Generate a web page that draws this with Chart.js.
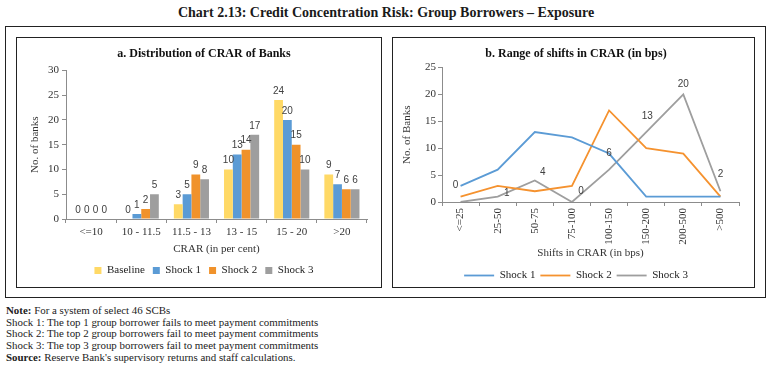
<!DOCTYPE html>
<html><head><meta charset="utf-8">
<script src="https://cdn.jsdelivr.net/npm/chart.js@4.4.0/dist/chart.umd.min.js"></script>
<style>
html,body{margin:0;padding:0;background:#fff;}
body{width:772px;height:366px;position:relative;overflow:hidden;font-family:"Liberation Serif",serif;color:#1a1a1a;}
#mainTitle{position:absolute;left:0;top:5px;width:772px;text-align:center;font-weight:bold;font-size:14px;line-height:16px;}
#outer{position:absolute;left:5px;top:26px;width:761px;height:272px;border:1px solid #222;box-sizing:border-box;}
.panel{position:absolute;border:1px solid #222;box-sizing:border-box;}
#panelA{left:16px;top:37px;width:366px;height:251px;}
#panelB{left:392px;top:37px;width:363px;height:251px;}
canvas{position:absolute;left:0;top:0;}
#notes{position:absolute;left:6px;top:305px;font-size:10.9px;line-height:11.7px;color:#222;}
</style>
</head><body>
<div id="mainTitle">Chart 2.13: Credit Concentration Risk: Group Borrowers – Exposure</div>
<div id="outer"></div>
<div class="panel" id="panelA"><canvas id="chartA" width="364" height="249"></canvas></div>
<div class="panel" id="panelB"><canvas id="chartB" width="361" height="249"></canvas></div>
<div id="notes">
<div><b>Note:</b> For a system of select 46 SCBs</div>
<div>Shock 1: The top 1 group borrower fails to meet payment commitments</div>
<div>Shock 2: The top 2 group borrowers fail to meet payment commitments</div>
<div>Shock 3: The top 3 group borrowers fail to meet payment commitments</div>
<div><b>Source:</b> Reserve Bank's supervisory returns and staff calculations.</div>
</div>
<script>
// ---- Panel a data ----
const crarCategories = ['<=10', '10 - 11.5', '11.5 - 13', '13 - 15', '15 - 20', '>20'];
const baselineBanks = [0, 0, 3, 10, 24, 9];
const shock1Banks = [0, 1, 5, 13, 20, 7];
const shock2Banks = [0, 2, 9, 14, 15, 6];
const shock3Banks = [0, 5, 8, 17, 10, 6];
const crarAxisTicks = [0, 5, 10, 15, 20, 25, 30];

// ---- Panel b data ----
const shiftCategories = ['<=25', '25-50', '50-75', '75-100', '100-150', '150-200', '200-500', '>500'];
const shock1Shift = [3, 6, 13, 12, 9, 1, 1, 1];
const shock2Shift = [1, 3, 2, 3, 17, 10, 9, 1];
const shock3Shift = [0, 1, 4, 0, 6, 13, 20, 2];
const shiftAxisTicks = [0, 5, 10, 15, 20, 25];

const serif = 'Liberation Serif';
const axisGrey = '#8c8c8c';
const textCol = '#333';

const barValueLabels = {
  id: 'barValueLabels',
  afterDatasetsDraw(chart, args, opts) {
    const ctx = chart.ctx;
    ctx.save();
    ctx.font = opts.font;
    ctx.fillStyle = opts.color;
    ctx.textAlign = 'center';
    ctx.textBaseline = 'middle';
    chart.data.datasets.forEach((ds, di) => {
      const meta = chart.getDatasetMeta(di);
      meta.data.forEach((el, i) => {
        ctx.fillText(String(ds.data[i]), el.x, el.y + opts.dy);
      });
    });
    ctx.restore();
  }
};

const lineValueLabels = {
  id: 'lineValueLabels',
  afterDatasetsDraw(chart, args, opts) {
    const ctx = chart.ctx;
    const ds = chart.data.datasets[opts.datasetIndex];
    const meta = chart.getDatasetMeta(opts.datasetIndex);
    ctx.save();
    ctx.font = opts.font;
    ctx.fillStyle = opts.color;
    ctx.textAlign = 'center';
    ctx.textBaseline = 'middle';
    meta.data.forEach((el, i) => {
      const off = opts.offsets[i] || [0, -12];
      ctx.fillText(String(ds.data[i]), el.x + off[0], el.y + off[1]);
    });
    ctx.restore();
  }
};

function tickRange(arr) {
  return {min: arr[0], max: arr[arr.length - 1], stepSize: arr[1] - arr[0]};
}

const rA = tickRange(crarAxisTicks);
new Chart(document.getElementById('chartA'), {
  type: 'bar',
  data: {
    labels: crarCategories,
    datasets: [
      {label: 'Baseline', data: baselineBanks, backgroundColor: '#FFD966'},
      {label: 'Shock 1', data: shock1Banks, backgroundColor: '#5B9BD5'},
      {label: 'Shock 2', data: shock2Banks, backgroundColor: '#F0922B'},
      {label: 'Shock 3', data: shock3Banks, backgroundColor: '#9E9E9E'}
    ]
  },
  options: {
    responsive: false, devicePixelRatio: 1, animation: false,
    categoryPercentage: 0.7, barPercentage: 1.0,
    layout: {padding: {left: 24, right: 14, top: 0, bottom: 1}},
    plugins: {
      title: {display: true, text: 'a. Distribution of CRAR of Banks', color: '#111',
        font: {family: serif, size: 12, weight: 'bold'}, padding: {top: 9, bottom: 9}},
      legend: {position: 'bottom', labels: {boxWidth: 7, boxHeight: 7, padding: 8, color: '#222',
        font: {family: serif, size: 11}}},
      tooltip: {enabled: false},
      barValueLabels: {font: '10px "Liberation Sans"', color: '#404040', dy: -9}
    },
    scales: {
      x: {
        grid: {drawOnChartArea: false, tickLength: 4, color: axisGrey},
        border: {color: axisGrey},
        ticks: {color: textCol, font: {family: serif, size: 11}, padding: 3, maxRotation: 0, autoSkip: false},
        title: {display: true, text: 'CRAR (in per cent)', color: textCol, font: {family: serif, size: 11}, padding: {top: 0, bottom: 1}},
        afterFit(s) { s.height = 38; }
      },
      y: {
        min: rA.min, max: rA.max,
        grid: {drawOnChartArea: false, tickLength: 4, color: axisGrey},
        border: {color: axisGrey},
        ticks: {stepSize: rA.stepSize, color: textCol, font: {family: serif, size: 11}, padding: 3},
        title: {display: true, text: 'No. of banks', color: textCol, font: {family: serif, size: 11}, padding: {top: -12, bottom: 0}},
        afterFit(s) { s.width = 25; }
      }
    }
  },
  plugins: [barValueLabels]
});

const rB = tickRange(shiftAxisTicks);
new Chart(document.getElementById('chartB'), {
  type: 'line',
  data: {
    labels: shiftCategories,
    datasets: [
      {label: 'Shock 1', data: shock1Shift, borderColor: '#5B9BD5', backgroundColor: '#5B9BD5', borderWidth: 1.8, pointRadius: 0, tension: 0},
      {label: 'Shock 2', data: shock2Shift, borderColor: '#F5922F', backgroundColor: '#F5922F', borderWidth: 1.8, pointRadius: 0, tension: 0},
      {label: 'Shock 3', data: shock3Shift, borderColor: '#9E9E9E', backgroundColor: '#9E9E9E', borderWidth: 1.8, pointRadius: 0, tension: 0}
    ]
  },
  options: {
    responsive: false, devicePixelRatio: 1, animation: false,
    layout: {padding: {left: 20, right: 15, top: 0, bottom: -4}},
    plugins: {
      title: {display: true, text: 'b. Range of shifts in CRAR (in bps)', color: '#111',
        font: {family: serif, size: 12, weight: 'bold'}, padding: {top: 9, bottom: 6}},
      legend: {position: 'bottom', labels: {usePointStyle: true, pointStyle: 'line', pointStyleWidth: 30, padding: 5, color: '#222',
        font: {family: serif, size: 11}}},
      tooltip: {enabled: false},
      lineValueLabels: {datasetIndex: 2, font: '10px "Liberation Sans"', color: '#404040',
        offsets: [[-5, -17], [9, -3], [8, -8], [9, -11], [0, -16], [1, -16], [0, -10], [0, -17]]}
    },
    scales: {
      x: {
        offset: true,
        grid: {offset: true, drawOnChartArea: false, tickLength: 4, color: axisGrey},
        border: {color: axisGrey},
        ticks: {color: textCol, font: {family: serif, size: 11}, padding: 2, minRotation: 90, maxRotation: 90, autoSkip: false},
        title: {display: true, text: 'Shifts in CRAR (in bps)', color: textCol, font: {family: serif, size: 11}, padding: {top: 0, bottom: 5}},
        afterFit(s) { s.height = 63; }
      },
      y: {
        min: rB.min, max: rB.max,
        grid: {drawOnChartArea: false, tickLength: 4, color: axisGrey},
        border: {color: axisGrey},
        ticks: {stepSize: rB.stepSize, color: textCol, font: {family: serif, size: 11}, padding: 2},
        title: {display: true, text: 'No. of Banks', color: textCol, font: {family: serif, size: 11}, padding: {top: -12, bottom: 0}},
        afterFit(s) { s.width = 29; }
      }
    }
  },
  plugins: [lineValueLabels]
});
</script>
</body></html>
